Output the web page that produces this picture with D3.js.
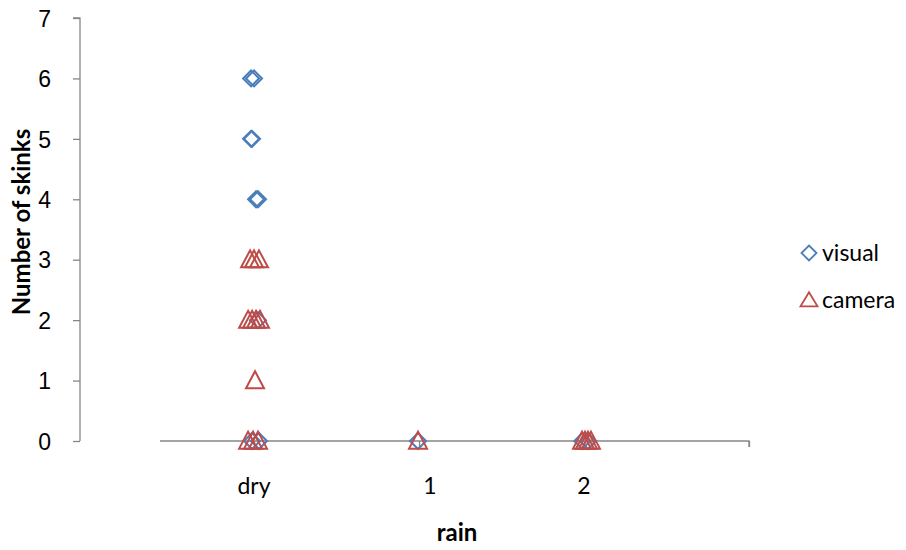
<!DOCTYPE html>
<html>
<head>
<meta charset="utf-8">
<script src="https://cdn.jsdelivr.net/npm/d3@7"></script>
<style>
  html, body { margin: 0; padding: 0; background: #fff; }
  svg { display: block; font-family: Lato, "Open Sans", sans-serif; }
</style>
</head>
<body>
<svg id="chart" width="906" height="550"></svg>
<script>
// ---- data ----
const categories = ["dry", "1", "2"];
const categoryX = [1, 2, 3];
const yTicks = [0, 1, 2, 3, 4, 5, 6, 7];

const visualX = [0.982, 1.0, 0.982, 0.988, 1.012, 1.024, 1.024, 0.988, 1.03, 1.994, 2.99, 3.024];
const visualY = [6, 6, 5, 5, 4, 4, 2, 0, 0, 0, 0, 0];

const cameraX = [0.976, 1.0, 1.03, 0.964, 0.988, 1.012, 1.036, 1.006, 0.964, 0.994, 1.024, 1.994, 2.988, 3.006, 3.024, 3.042];
const cameraY = [3, 3, 3, 2, 2, 2, 2, 1, 0, 0, 0, 0, 0, 0, 0, 0];

const seriesNames = ["visual", "camera"];
const seriesColors = ["#4a7ebb", "#be4b48"];

// ---- layout ----
const svg = d3.select("#chart");
const axisColor = "#868686";
const fontSize = "23px";

const x = d3.scaleLinear().domain([0.43, 4.0]).range([160, 749]);
const y = d3.scaleLinear().domain([0, 7]).range([441, 18]);

// y axis
const yAxis = d3.axisLeft(y).tickValues(yTicks).tickSize(7).tickPadding(22).tickFormat(d3.format("d"));
const gy = svg.append("g").attr("transform", "translate(80,0)").call(yAxis);
gy.select(".domain").attr("stroke", axisColor).attr("stroke-width", 1.3).attr("d", `M-7,${y(7)}H0V${y(0)}`);
gy.selectAll(".tick line").attr("stroke", axisColor).attr("stroke-width", 1.3);
gy.selectAll(".tick text").attr("fill", "#000").style("font-size", fontSize).attr("dy", "0.36em");

// x axis
const xAxis = d3.axisBottom(x).tickValues([1, 2, 3, 4]).tickSize(6).tickFormat("");
const gx = svg.append("g").attr("transform", `translate(0,${y(0)})`).call(xAxis);
gx.select(".domain").attr("stroke", axisColor).attr("stroke-width", 1.3).attr("d", `M${x.range()[0]},0H${x(4)}V6`);
gx.selectAll(".tick line").attr("stroke", axisColor).attr("stroke-width", 1.3);

// category labels
const labelShift = [0, 11, 0];
svg.append("g").selectAll("text").data(categories).join("text")
  .attr("x", (d, i) => x(categoryX[i]) + labelShift[i])
  .attr("y", 494)
  .attr("text-anchor", "middle")
  .style("font-size", fontSize)
  .text(d => d);

// axis titles
svg.append("text")
  .attr("transform", "translate(30,222) rotate(-90)")
  .attr("text-anchor", "middle")
  .style("font-size", "24px").style("font-weight", "bold")
  .text("Number of skinks");
svg.append("text")
  .attr("x", 457).attr("y", 541)
  .attr("text-anchor", "middle")
  .style("font-size", "24px").style("font-weight", "bold")
  .text("rain");

// markers
const diamond = s => `M0,${-s}L${s},0L0,${s}L${-s},0Z`;
const triangle = (w, h) => `M0,${-h * 0.55}L${w},${h * 0.45}L${-w},${h * 0.45}Z`;

const visualData = visualX.map((v, i) => ({ x: v, y: visualY[i] }));
const cameraData = cameraX.map((v, i) => ({ x: v, y: cameraY[i] }));

svg.append("g").selectAll("path").data(visualData).join("path")
  .attr("transform", d => `translate(${x(d.x)},${y(d.y)})`)
  .attr("d", diamond(8))
  .attr("fill", "none").attr("stroke", seriesColors[0]).attr("stroke-width", 2);

svg.append("g").selectAll("path").data(cameraData).join("path")
  .attr("transform", d => `translate(${x(d.x)},${y(d.y)})`)
  .attr("d", triangle(9, 17))
  .attr("fill", "none").attr("stroke", seriesColors[1]).attr("stroke-width", 2);

// legend
const legend = svg.append("g");
const legendY = [253, 300];
seriesNames.forEach((name, i) => {
  legend.append("path")
    .attr("transform", `translate(809,${legendY[i]})`)
    .attr("d", i === 0 ? diamond(7.5) : triangle(8.5, 14))
    .attr("fill", "none").attr("stroke", seriesColors[i]).attr("stroke-width", 1.8);
  legend.append("text")
    .attr("x", 822).attr("y", legendY[i]).attr("dy", "0.36em")
    .style("font-size", fontSize)
    .text(name);
});
</script>
</body>
</html>
